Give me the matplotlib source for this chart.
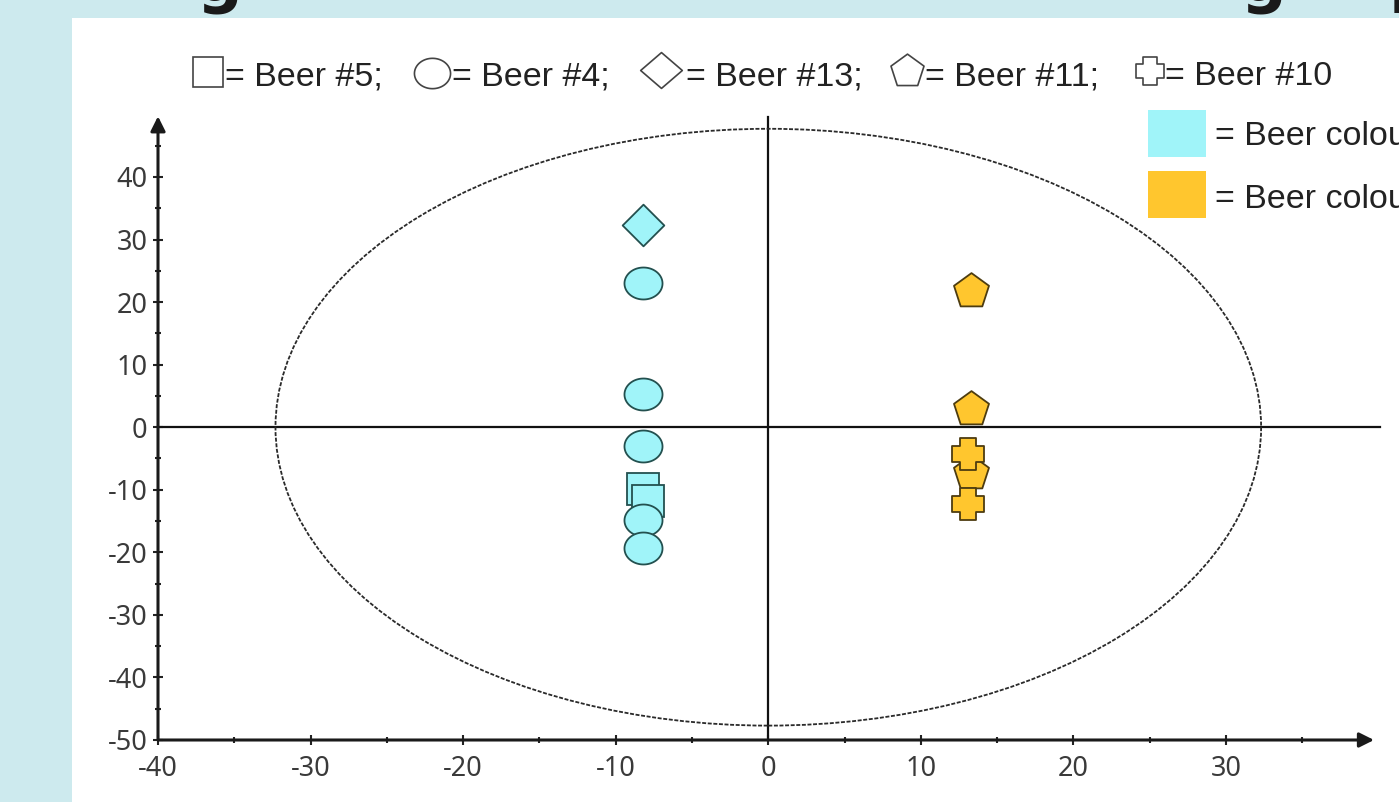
import numpy as np
import matplotlib
matplotlib.use('Agg')
import matplotlib.pyplot as plt
from matplotlib.patches import Ellipse, Rectangle
from matplotlib.lines import Line2D
from matplotlib.path import Path
from matplotlib.ticker import FixedLocator

# ---------------- data ----------------
beer5_x = [-8.2, -7.9]
beer5_y = [-9.8, -11.8]
beer4_x = [-8.2, -8.2, -8.2, -8.2, -8.2]
beer4_y = [23.0, 5.3, -3.0, -14.8, -19.3]
beer13_x = [-8.2]
beer13_y = [32.3]
beer11_x = [13.3, 13.3, 13.3]
beer11_y = [21.8, 2.9, -7.3]
beer10_x = [13.1, 13.1]
beer10_y = [-4.3, -12.3]

ellipse_semi_x = 32.3
ellipse_semi_y = 47.7

x_ticks = [-40, -30, -20, -10, 0, 10, 20, 30]
y_ticks = [-50, -40, -30, -20, -10, 0, 10, 20, 30, 40]
x_minor = [-35, -25, -15, -5, 5, 15, 25, 35]
y_minor = [-45, -35, -25, -15, -5, 5, 15, 25, 35, 45]

shape_labels = ["= Beer #5;", "= Beer #4;", "= Beer #13;", "= Beer #11;", "= Beer #10"]
colour_labels = ["= Beer colour", "= Beer colour"]

CYAN = '#a0f4f9'
GOLD = '#ffc62e'
CYAN_EDGE = '#23504f'
GOLD_EDGE = '#4d3c10'

W, H = 1399, 802
def fx(px): return px / W
def fy(py): return 1 - py / H

plt.rcParams['font.family'] = ['Noto Sans', 'DejaVu Sans']

fig = plt.figure(figsize=(W / 100, H / 100), dpi=100)
fig.patch.set_facecolor('#cdeaee')
fig.add_artist(Rectangle((fx(72), 0), 1 - fx(72), fy(18), transform=fig.transFigure,
                         facecolor='white', edgecolor='none', zorder=-2))

# clipped heading (only descenders visible at the very top)
for ch, px in [("g", 196), ("g", 1240), ("p", 1389)]:
    fig.text(fx(px), 1.0, ch, fontsize=46, fontweight='bold', color='#1a1a1a',
             family='DejaVu Sans', ha='left', va='baseline')

# ---------------- marker shapes ----------------
def closed(verts):
    verts = list(verts)
    return Path(verts + [verts[0]], closed=True)

t = np.linspace(0, 2 * np.pi, 73)[:-1]
ell_marker = closed([(0.5 * np.cos(a), 0.42 * np.sin(a)) for a in t])
diamond_marker = closed([(0, 0.5), (0.5, 0), (0, -0.5), (-0.5, 0)])
diamond_leg = closed([(0, 0.43), (0.5, 0), (0, -0.43), (-0.5, 0)])
pent_marker = closed([(0.5 * np.cos(np.radians(90 + 72 * k)), 0.5 * np.sin(np.radians(90 + 72 * k)))
                      for k in range(5)])
b = 0.26
cross_marker = closed([(-b, 0.5), (b, 0.5), (b, b), (0.5, b), (0.5, -b), (b, -b), (b, -0.5), (-b, -0.5),
                       (-b, -b), (-0.5, -b), (-0.5, b), (-b, b)])

# ---------------- axes ----------------
ax = fig.add_axes([fx(158), fy(740), (1378.6 - 158) / W, (740 - 114.4) / H])
ax.set_facecolor('none')
ax.set_xlim(-40, 40)
ax.set_ylim(-50, 50)
for s in ax.spines.values():
    s.set_visible(False)

ax.set_xticks(x_ticks)
ax.set_yticks(y_ticks)
ax.xaxis.set_minor_locator(FixedLocator(x_minor))
ax.yaxis.set_minor_locator(FixedLocator(y_minor))
ax.tick_params(which='major', direction='inout', length=7, width=1.5, color='#222222',
               labelsize=19.5, labelcolor='#3a3a3a', pad=4)
ax.tick_params(axis='x', which='major', pad=7)
ax.tick_params(which='minor', direction='inout', length=5, width=1.5, color='#222222')
ax.set_xticklabels([str(v) for v in x_ticks])
ax.set_yticklabels([str(v) for v in y_ticks])

# axis arrows
arrow_kw = dict(arrowstyle='-|>', color='#1a1a1a', lw=2.2, mutation_scale=22, shrinkA=0, shrinkB=0)
ax.annotate('', xy=(39.7, -50), xytext=(-40, -50), arrowprops=arrow_kw, annotation_clip=False)
ax.annotate('', xy=(-40, 49.7), xytext=(-40, -50), arrowprops=arrow_kw, annotation_clip=False)

# zero lines
ax.plot([-40, 40.1], [0, 0], color='#111111', lw=1.6, clip_on=False, zorder=2)
ax.plot([0, 0], [-50, 49.6], color='#111111', lw=1.6, clip_on=False, zorder=2)

# confidence ellipse
ax.add_patch(Ellipse((0, 0), 2 * ellipse_semi_x, 2 * ellipse_semi_y, fill=False,
                     edgecolor='#2a2a2a', lw=1.3, linestyle=(0, (2.2, 0.9)), zorder=2))

# points
mk = dict(linestyle='none', markeredgewidth=1.3, zorder=4, clip_on=False)
ax.plot(beer5_x, beer5_y, marker='s', markersize=22.5, mfc=CYAN, mec=CYAN_EDGE, **mk)
ax.plot(beer4_x, beer4_y, marker=ell_marker, markersize=27.4, mfc=CYAN, mec=CYAN_EDGE, **mk)
ax.plot(beer13_x, beer13_y, marker=diamond_marker, markersize=30, mfc=CYAN, mec=CYAN_EDGE, **mk)
ax.plot(beer11_x, beer11_y, marker=pent_marker, markersize=26.5, mfc=GOLD, mec=GOLD_EDGE, **mk)
ax.plot(beer10_x, beer10_y, marker=cross_marker, markersize=23.5, mfc=GOLD, mec=GOLD_EDGE, **mk)

# ---------------- top shape legend ----------------
leg_font = dict(family='Liberation Sans', fontsize=24.5, color='#222222', ha='left', va='baseline')
sym_specs = [
    ('s', 21, 208, 72),
    (ell_marker, 26, 432, 73),
    (diamond_leg, 30, 661, 70),
    (pent_marker, 25, 907, 71),
    (cross_marker, 20.5, 1150, 71),
]
text_x = [225, 452, 686, 925, 1165]
for (m, ms, px, py), lab, tx in zip(sym_specs, shape_labels, text_x):
    fig.add_artist(Line2D([fx(px)], [fy(py)], marker=m, markersize=ms, mfc='white',
                          mec='#444444', mew=1.2, linestyle='none', transform=fig.transFigure))
    fig.text(fx(tx), fy(85), lab, **leg_font)

# ---------------- colour legend ----------------
for (top, col), lab, base in zip([(110, CYAN), (171, GOLD)], colour_labels, [145, 208]):
    fig.add_artist(Rectangle((fx(1148), fy(top + 47)), (1206 - 1148) / W, 47 / H,
                             transform=fig.transFigure, facecolor=col, edgecolor='none'))
    fig.text(fx(1215), fy(base), lab, **leg_font)

fig.savefig('out.png', dpi=100, facecolor=fig.get_facecolor())
